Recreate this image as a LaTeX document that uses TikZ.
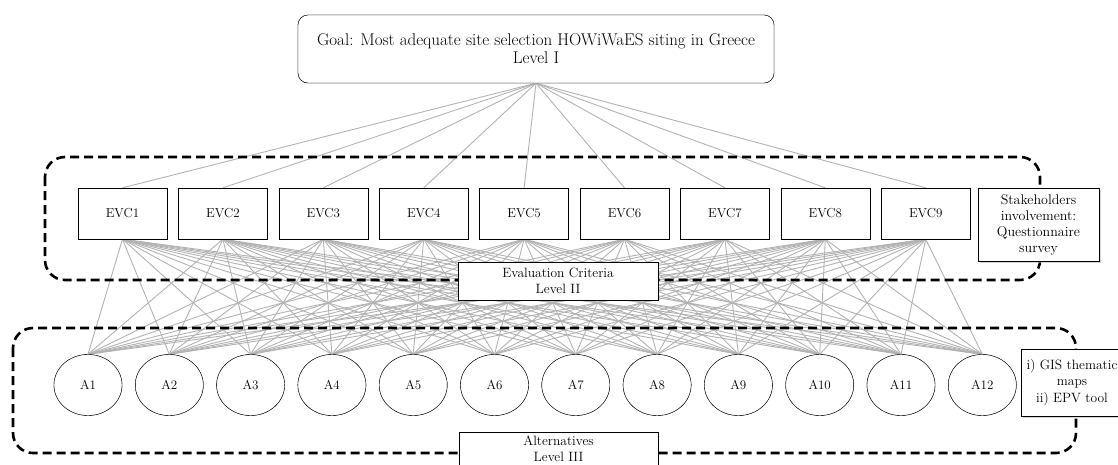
\documentclass[tikz,border=0pt]{standalone}
\usetikzlibrary{shapes.geometric,shadows}
\begin{document}
\begin{tikzpicture}[x=1pt,y=-1pt]

      \tikzset{crit/.style={draw, rectangle, minimum width=89pt, minimum height=51pt, inner sep=0pt, fill=white, font=\fontsize{13}{15}\selectfont},
               alter/.style={draw, ellipse, minimum width=68pt, minimum height=61pt, inner sep=0pt, fill=white, font=\fontsize{13}{15}\selectfont},
               label box/.style={draw, rectangle, inner sep=0pt, fill=white, align=center, font=\fontsize{13.5}{16.5}\selectfont},
               side box/.style={label box, line width=1pt, drop shadow={shadow xshift=1.5pt, shadow yshift=-1.5pt, fill=gray!60}},
               link/.style={draw=gray!60, line width=0.9pt},
               group/.style={draw, line width=2.6pt, dash pattern=on 9pt off 5pt, rounded corners=20pt}}
      \useasboundingbox (0,0) rectangle (1118,464);
%% Goal
      	\node[label box, rounded corners=10pt, minimum width=476pt, minimum height=68pt, font=\fontsize{17}{18}\selectfont] (goal) at (536,49)
      	  {Goal: Most adequate site selection HOWiWaES siting in Greece\\Level I};
%% Criteria
      	\foreach \i in {1,...,9}
      	  \node[crit] (evc\i) at ({122.5+100.4*(\i-1)},213.5) {EVC\i};
%% Alternatives
      	\foreach \j in {1,...,12}
      	  \node[alter] (a\j) at ({88+81.3*(\j-1)},385) {A\j};
%Edges
      	\foreach \i in {1,...,9}
      	  \path[link] (goal.south) -- (evc\i.north);
      	\foreach \i in {1,...,9}
      	  \foreach \j in {1,...,12}
      	    \path[link] (evc\i.south) -- (a\j.north);
%Groups
      	\draw[group] (45,157) rectangle (1040,280);
      	\draw[group] (13,328) rectangle (1076,453);
      	\node[label box, minimum width=200pt, minimum height=38pt] (critlabel) at (558,281) {Evaluation Criteria\\Level II};
      	\node[label box, minimum width=199pt, minimum height=40pt] (altlabel) at (558.5,452) {};
      	\node[font=\fontsize{13.5}{16}\selectfont, align=center, inner sep=0pt] (alttext) at (558.5,449) {Alternatives\\Level III};
      	\node[side box, minimum width=121pt, minimum height=73pt, font=\fontsize{14}{16}\selectfont] (stake) at (1038.5,224.5) {Stakeholders\\involvement:\\Questionnaire\\survey};
      	\node[side box, minimum width=102pt, minimum height=67pt] (gis) at (1072,382.5) {i) GIS thematic\\maps\\ii) EPV tool};
%% Redraw nodes over edges
      	\foreach \i in {1,...,9}
      	  \node[crit] at (evc\i) {EVC\i};
      	\foreach \j in {1,...,12}
      	  \node[alter] at (a\j) {A\j};
      	\node[label box, rounded corners=10pt, minimum width=476pt, minimum height=68pt, font=\fontsize{17}{18}\selectfont] at (goal)
      	  {Goal: Most adequate site selection HOWiWaES siting in Greece\\Level I};

	\end{tikzpicture}
\end{document}
